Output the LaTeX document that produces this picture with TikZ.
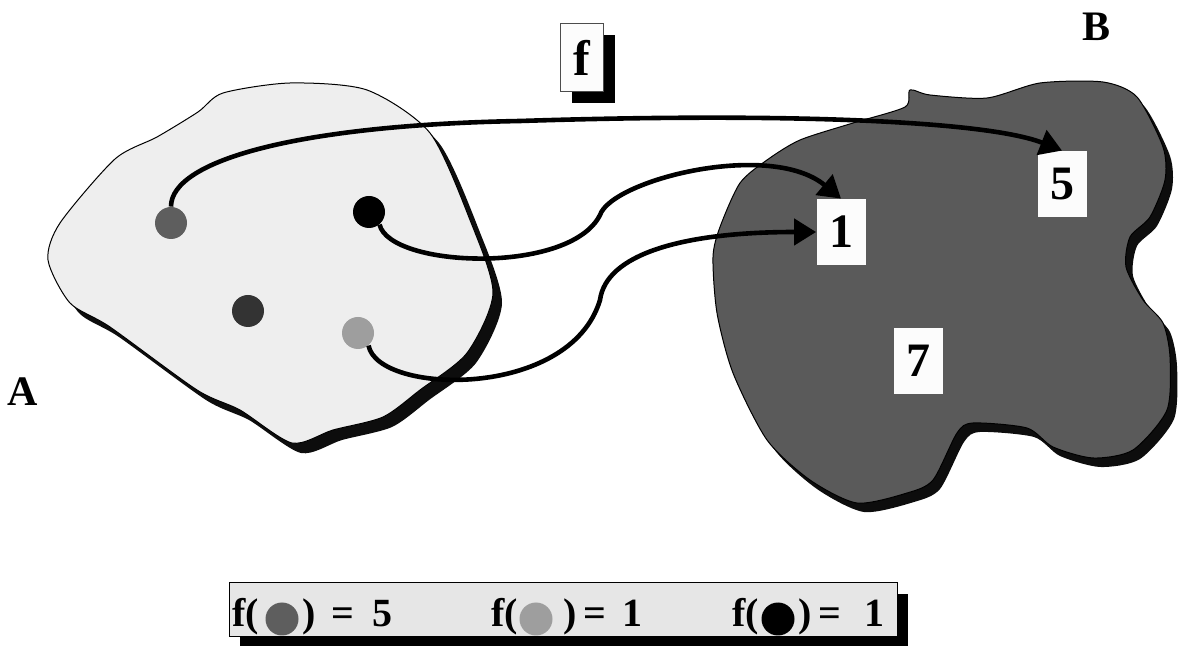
\documentclass[tikz,border=0pt]{standalone}
\usepackage{fontspec}
\setmainfont{Liberation Serif}
\usetikzlibrary{arrows.meta}
\usetikzlibrary{shadows}
\definecolor{setA}{HTML}{EEEEEE}
\definecolor{setB}{HTML}{5A5A5A}
\definecolor{blobshadow}{HTML}{0D0D0D}
\definecolor{dotmid}{HTML}{5E5E5E}
\definecolor{dotlight}{HTML}{9E9E9E}
\definecolor{dotdark}{HTML}{333333}
\definecolor{legfill}{HTML}{E6E6E6}
\definecolor{paper}{HTML}{FCFCFC}
\tikzstyle{numbox}=[fill=paper, minimum width=24.5pt, minimum height=33pt, inner sep=0pt, font=\fontsize{24}{24}\selectfont\bfseries]
\tikzstyle{dot}=[circle, minimum size=16pt, inner sep=0pt]
\tikzstyle{maps}=[line width=2.3pt, -{Triangle[length=11pt,width=13pt]}]
\tikzstyle{legtext}=[anchor=base west, inner sep=0pt, font=\fontsize{20}{20}\selectfont\bfseries]
\tikzstyle{setname}=[inner sep=0pt, font=\fontsize{21}{21}\selectfont\bfseries]
\tikzstyle{boxshadow}=[drop shadow={shadow xshift=5.5pt, shadow yshift=-5.5pt, fill=black, opacity=1}]

\def\blobA{plot[smooth cycle, tension=0.45] coordinates {(290,83) (367,90) (430,133) (470,220) (493,293) (467,353) (420,390) (383,417) (333,430) (292,443) (240,410) (197,390) (110,327) (70,303) (48,260) (60,223) (115,159) (157,137) (198,112) (223,93)}}
\def\blobB{plot[smooth cycle, tension=0.45] coordinates {(910,90) (930,95) (987,98) (1040,83) (1103,82) (1137,97) (1163,147) (1165,180) (1150,217) (1130,237) (1126,267) (1143,300) (1163,323) (1170,357) (1167,410) (1133,450) (1093,458) (1053,447) (1027,428) (973,423) (957,433) (933,480) (907,493) (857,503) (810,480) (767,440) (733,373) (717,313) (713,257) (720,227) (740,183) (767,160) (800,140) (853,123) (905,107)}}

\begin{document}
\begin{tikzpicture}[x=0.5pt, y=-0.5pt]
		\useasboundingbox (0, 0) rectangle (1179, 646);
		% the two sets
		\fill[blobshadow, shift={(9, 10)}] \blobA;
		\filldraw[fill=setA, draw=black, line width=0.5pt] \blobA;
		\fill[blobshadow, shift={(7, 9)}] \blobB;
		\filldraw[fill=setB, draw=black, line width=0.5pt] \blobB;
		\node(nameA)[setname] at (23, 392) {A};
		\node(nameB)[setname] at (1096, 27) {B};
		% elements of A
		\node(middot)[dot, fill=dotmid] at (171, 223) {};
		\node(blackdot)[dot, fill=black] at (369, 212) {};
		\node(darkdot)[dot, fill=dotdark] at (248, 311) {};
		\node(lightdot)[dot, fill=dotlight] at (358, 333) {};
		% elements of B
		\node(five)[numbox] at (1062, 184) {5};
		\node(one)[numbox] at (841, 232) {1};
		\node(seven)[numbox] at (918, 361) {7};
		% the map
		\node(fname)[fill=paper, draw=black!70, line width=0.5pt, minimum width=21.5pt, minimum height=34pt, inner sep=0pt, boxshadow, font=\fontsize{25}{25}\selectfont\bfseries] at (582, 58) {f};
		\draw[maps] (middot.north) .. controls (171, 160) and (300, 125) .. (520, 121) .. controls (800, 112) and (990, 122) .. (five.north);
		\draw[maps] (blackdot.-50) .. controls (390, 268) and (570, 275) .. (600, 215) .. controls (612, 180) and (770, 140) .. (one.north);
		\draw[maps] (lightdot.-50) .. controls (378, 395) and (570, 400) .. (600, 300) .. controls (606, 255) and (680, 232) .. (one.west);
		% legend
		\node(legend)[fill=legfill, draw=black, line width=0.5pt, minimum width=334pt, minimum height=27pt, inner sep=0pt, boxshadow] at (563, 610) {};
		\node(legfA)[legtext] at (232, 627) {f(};
		\node(legdotA)[dot, fill=dotmid, minimum size=16.5pt] at (282, 619) {};
		\node(legvalA)[legtext] at (302, 627) {)\hspace{8pt}=\hspace{9pt}5};
		\node(legfB)[legtext] at (491, 627) {f(};
		\node(legdotB)[dot, fill=dotlight, minimum size=16.5pt] at (536, 619) {};
		\node(legvalB)[legtext] at (563, 627) {)\hspace{3.5pt}=\hspace{8pt}1};
		\node(legfC)[legtext] at (732, 627) {f(};
		\node(legdotC)[dot, fill=black, minimum size=16.5pt] at (778, 619) {};
		\node(legvalC)[legtext] at (798, 627) {)\hspace{3.5pt}=\hspace{11.5pt}1};
\end{tikzpicture}
\end{document}
